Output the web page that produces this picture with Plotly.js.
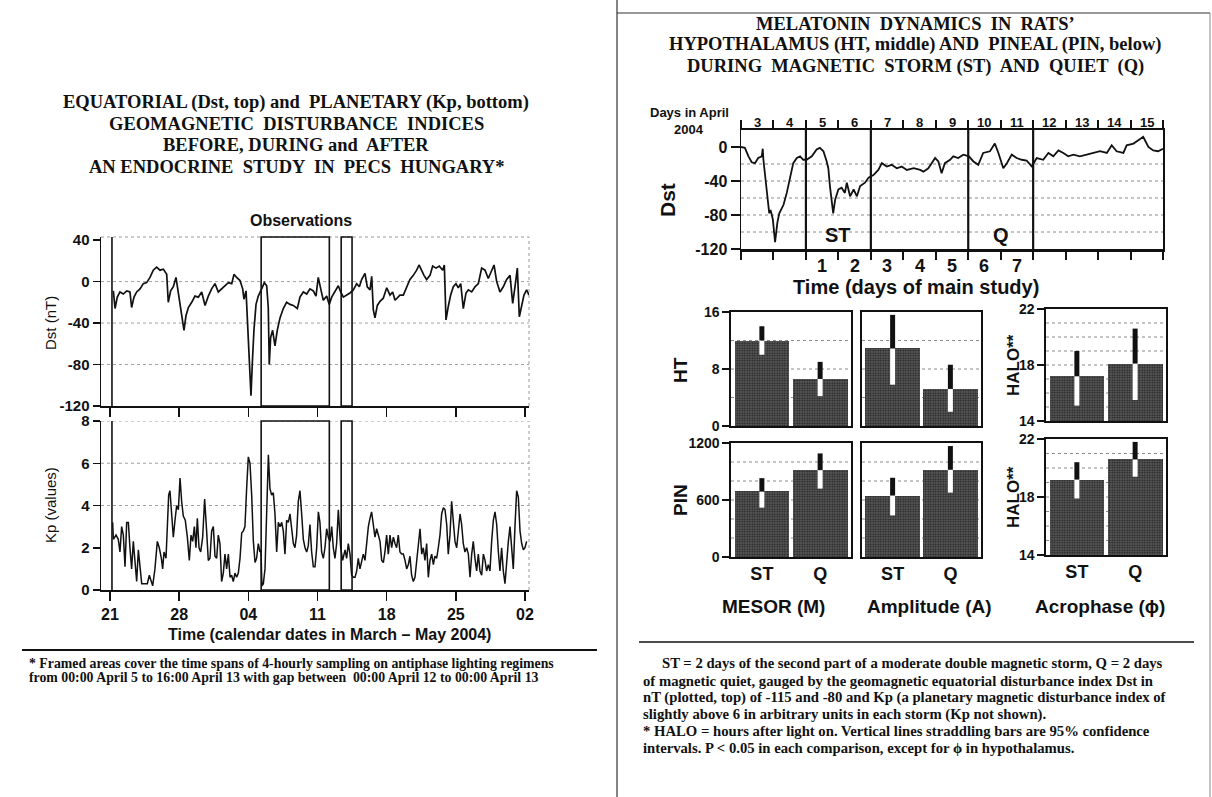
<!DOCTYPE html>
<html><head><meta charset="utf-8">
<script src="https://cdn.plot.ly/plotly-3.0.1.min.js"></script>
<style>html,body{margin:0;padding:0;background:#fff;}#chart{width:1212px;height:797px;}</style>
</head><body><div id="chart"></div>
<script>
// ---------- LEFT: Dst (nT) and Kp, x = day counted from 1 March 2004 (32 = 1 April)
const dstDay = [21.34,21.51,21.74,22.01,22.35,22.69,23.02,23.19,23.43,23.70,24.04,24.37,24.71,25.05,25.38,25.72,26.06,26.40,26.74,26.90,27.14,27.41,27.68,27.91,28.25,28.49,28.69,28.93,29.27,29.60,29.94,30.28,30.62,30.95,31.29,31.63,31.96,32.30,32.64,32.98,33.32,33.55,33.82,34.16,34.43,34.56,34.77,34.94,35.10,35.27,35.40,35.57,35.78,36.01,36.35,36.62,36.86,37.02,37.12,37.26,37.46,37.70,37.93,38.21,38.54,38.88,39.22,39.55,39.96,40.23,40.57,40.91,41.24,41.58,41.85,42.08,42.33,42.59,42.93,43.19,43.44,43.77,44.11,44.35,44.62,44.96,45.29,45.63,45.97,46.24,46.47,46.81,47.04,47.32,47.49,47.65,47.82,48.06,48.33,48.66,49.01,49.34,49.61,49.85,50.08,50.35,50.69,51.03,51.36,51.70,52.04,52.28,52.55,52.78,53.05,53.39,53.66,54.00,54.33,54.67,54.84,55.01,55.24,55.48,55.75,56.02,56.25,56.50,56.76,57.03,57.27,57.61,57.94,58.28,58.62,58.96,59.29,59.63,59.87,60.14,60.47,60.81,61.15,61.49,61.76,61.99,62.23,62.43,62.67,62.90,63.17,63.41];
const dstVal = [-9,-26,-15,-10,-12,-9,-10,-25,-15,-10,-7,-2,-1,4,11,14,11,12,7,-20,-9,-5,4,-10,-28,-47,-33,-25,-20,-14,-15,-10,-23,-14,-7,-2,-10,-7,-4,-1,-2,7,4,1,-7,-17,-9,-47,-86,-110,-80,-47,-22,-14,-7,-1,-4,-25,-80,-54,-47,-62,-47,-35,-26,-20,-22,-23,-26,-15,-10,-12,-7,-9,-14,4,-7,-18,-14,-22,-15,-10,-4,-10,-15,-13,-11,-8,-2,-5,2,8,-5,-8,5,-27,-35,-23,-19,-16,-6,-13,-10,-18,-16,-13,-13,-6,2,6,11,16,10,6,2,6,15,13,15,11,16,-37,-24,-13,-5,-2,-6,-2,-26,-11,-8,-10,-5,-2,13,11,3,10,16,0,-10,-5,2,6,-21,-5,13,-34,-23,-13,-8,-13];
const kpDay = [21.27,21.34,21.61,21.84,22.01,22.18,22.35,22.52,22.69,22.86,23.02,23.19,23.36,23.53,23.70,23.87,24.04,24.21,24.54,24.78,24.98,25.15,25.32,25.55,25.79,25.99,26.20,26.33,26.47,26.67,26.80,26.94,27.07,27.24,27.41,27.58,27.75,27.92,28.09,28.25,28.42,28.62,28.83,29.03,29.20,29.37,29.54,29.70,29.84,30.01,30.18,30.38,30.58,30.78,30.95,31.12,31.29,31.46,31.63,31.80,31.96,32.13,32.30,32.47,32.64,32.81,32.98,33.15,33.31,33.48,33.65,33.82,33.99,34.16,34.33,34.50,34.66,34.83,35.00,35.17,35.34,35.51,35.68,35.84,36.01,36.18,36.28,36.38,36.52,36.69,36.86,37.03,37.19,37.36,37.53,37.70,37.87,38.04,38.21,38.38,38.54,38.71,38.88,39.05,39.22,39.39,39.56,39.72,39.89,40.06,40.23,40.40,40.57,40.74,40.91,41.07,41.24,41.41,41.58,41.75,41.92,42.09,42.25,42.42,42.59,42.76,42.93,43.10,43.27,43.44,43.60,43.77,43.94,44.11,44.35,44.55,44.79,44.95,45.12,45.29,45.46,45.63,45.80,45.97,46.13,46.30,46.47,46.64,46.81,46.98,47.15,47.32,47.48,47.65,47.82,47.99,48.16,48.33,48.50,48.67,48.83,49.00,49.17,49.34,49.51,49.68,49.85,50.01,50.18,50.35,50.52,50.69,50.86,51.03,51.20,51.36,51.53,51.70,51.87,52.04,52.21,52.38,52.55,52.71,52.88,53.05,53.22,53.39,53.56,53.73,53.89,54.06,54.23,54.40,54.57,54.74,54.91,55.08,55.24,55.41,55.58,55.75,55.92,56.09,56.26,56.43,56.59,56.76,56.93,57.10,57.27,57.44,57.61,57.77,57.94,58.11,58.28,58.45,58.62,58.79,58.96,59.12,59.29,59.46,59.63,59.80,59.97,60.14,60.31,60.47,60.64,60.81,60.98,61.15,61.32,61.49,61.66,61.82,61.99,62.16,62.33,62.50,62.67,62.84,63.00,63.17];
const kpVal = [3.2,2.4,2.6,2.4,1.8,3.0,2.6,1.1,3.2,3.2,2.0,1.0,2.3,1.2,0.4,1.9,1.2,0.3,0.3,0.3,0.7,0.4,0.2,1.0,2.3,2.0,1.5,1.0,1.8,1.5,3.0,4.5,4.7,3.5,2.5,3.3,4.0,3.8,5.3,4.2,3.5,3.3,2.5,1.4,2.6,2.3,3.0,2.0,3.4,2.0,1.8,2.5,4.3,2.8,1.4,1.5,2.8,3.0,1.6,1.5,2.6,2.2,0.4,0.8,1.7,1.0,1.7,0.6,0.7,0.4,0.8,0.6,0.8,1.5,2.7,2.8,3.0,4.8,6.3,6.0,4.5,2.3,1.3,1.5,2.2,1.8,1.9,0.2,0.3,1.0,3.5,6.4,4.8,4.5,4.6,3.6,1.8,3.2,3.0,3.2,2.8,1.7,3.3,3.2,3.6,3.0,2.2,2.0,2.6,4.2,4.7,3.6,2.4,2.0,1.8,2.1,3.1,1.8,1.1,1.1,2.0,3.7,3.2,1.8,1.5,2.0,2.9,2.5,2.3,3.0,2.0,1.5,2.2,3.8,2.0,1.4,1.9,1.5,2.2,1.7,0.7,0.6,0.6,0.9,1.5,1.0,1.4,1.7,1.4,2.3,3.0,3.4,3.7,3.1,2.5,2.9,2.6,2.3,1.4,1.3,1.8,2.6,1.7,2.6,2.0,2.5,2.2,2.0,2.6,1.8,1.7,1.7,1.4,1.0,1.2,1.6,0.7,0.4,0.6,1.4,2.3,2.9,1.7,2.0,1.4,2.2,0.6,1.4,1.7,1.2,1.6,1.5,2.0,2.6,3.6,3.9,3.8,3.1,1.7,2.6,4.2,3.1,2.3,2.0,2.9,3.6,3.1,2.2,1.8,2.0,1.7,0.6,1.7,2.3,1.5,0.9,1.7,0.9,0.7,1.7,1.4,0.9,1.2,0.9,2.3,3.3,3.7,3.1,1.8,0.9,2.0,0.9,0.3,1.4,2.3,3.0,2.0,1.0,3.0,4.7,4.4,2.8,2.2,1.9,2.0,2.3];
const dateTicks = [21,28,35,42,49,56,63];
const dateLabels = ['21','28','04','11','18','25','02'];
const dstTicks = [40,0,-40,-80,-120];
const dstGrid = [0,-40,-80];
const kpTicks = [0,2,4,6,8];
const kpGrid = [4,6,8];
const recordStart = 21.2;
const obsStart = [36.3,44.4];
const obsEnd = [43.2,45.5];

// ---------- RIGHT TOP: Dst in April 2004, x = day of April
const aprDay = [3.00,3.12,3.23,3.33,3.43,3.53,3.64,3.67,3.69,3.74,3.81,3.87,3.91,3.98,4.05,4.12,4.18,4.31,4.41,4.51,4.61,4.72,4.82,4.92,5.02,5.18,5.33,5.43,5.54,5.64,5.69,5.74,5.79,5.84,5.90,6.00,6.10,6.20,6.26,6.36,6.47,6.57,6.67,6.82,6.93,7.08,7.23,7.34,7.49,7.64,7.80,7.95,8.11,8.32,8.52,8.62,8.77,8.98,9.08,9.18,9.28,9.44,9.54,9.69,9.85,10.02,10.16,10.31,10.46,10.67,10.82,10.93,11.08,11.19,11.34,11.49,11.65,11.80,11.96,12.11,12.31,12.47,12.62,12.78,12.93,13.08,13.24,13.44,13.65,13.85,14.06,14.27,14.42,14.57,14.78,14.88,15.09,15.24,15.39,15.55,15.70,15.85,16.00];
const aprDst = [0,-1,-11,-18,-19,-13,-11,-2,-15,-35,-62,-78,-74,-85,-112,-89,-78,-68,-54,-35,-19,-13,-11,-15,-15,-11,-3,-1,-5,-17,-25,-46,-66,-78,-62,-50,-48,-54,-42,-58,-50,-58,-46,-42,-36,-33,-27,-19,-23,-21,-25,-23,-27,-25,-27,-29,-25,-13,-17,-31,-19,-15,-11,-13,-9,-11,-17,-21,-7,-5,4,-7,-25,-19,-9,-13,-15,-16,-23,-13,-15,-7,-11,-4,-7,-11,-9,-11,-9,-7,-5,-7,2,-5,-7,2,4,8,12,0,-4,-5,-2];
const aprTickDays = [3,4,5,6,7,8,9,10,11,12,13,14,15,16];
const aprLabels = ['3','4','5','6','7','8','9','10','11','12','13','14','15'];
const studyLabels = ['1','2','3','4','5','6','7'];
const studyFirstDay = 5;
const aprDstTicks = [0,-40,-80,-120];
const aprDstGrid = [-20,-40,-60,-80,-100];
const stormSpan = [5,7];
const quietSpan = [10,12];

// ---------- RIGHT BARS: ST vs Q
const groups = ['ST','Q'];
const htMesor = [12.0,6.6],  htMesorLo = [10.0,4.2],  htMesorHi = [14.0,9.0];
const htAmp   = [10.9,5.2],  htAmpLo   = [5.8,2.0],   htAmpHi   = [15.6,8.6];
const htAcro  = [17.2,18.1], htAcroLo  = [15.1,15.5], htAcroHi  = [19.0,20.6];
const pinMesor= [690,915],   pinMesorLo= [520,720],   pinMesorHi= [830,1090];
const pinAmp  = [647,918],   pinAmpLo  = [438,678],   pinAmpHi  = [834,1168];
const pinAcro = [19.2,20.6], pinAcroLo = [17.9,19.4], pinAcroHi = [20.4,21.8];
const htTicks = [0,8,16], htGrid = [4,8,12];
const pinTicks = [0,600,1200], pinGrid = [200,400,600,800,1000];
const haloTicks = [14,18,22], haloGrid = [15,16,17,18,19,20,21];

// ---------- helpers
const W = 1212, H = 797;
const fx = p => p / W;
const fy = p => 1 - p / H;
const SERIF = 'Liberation Serif, Times New Roman, serif';
const SANS = 'Liberation Sans, Arial, sans-serif';
const INK = '#111';
const B = s => '<b>' + s + '</b>';
const annotations = [];
const shapes = [];
function ann(text, x, y, o) {
  annotations.push(Object.assign({text: text, x: fx(x), y: fy(y), xref: 'paper', yref: 'paper',
    showarrow: false, xanchor: 'center', yanchor: 'middle'}, o));
}
function hline(x0, x1, y, w, color, dash) {
  shapes.push({type: 'line', xref: 'paper', yref: 'paper', x0: fx(x0), x1: fx(x1), y0: fy(y), y1: fy(y),
    line: {color: color || INK, width: w || 1, dash: dash || 'solid'}});
}
function vline(x, y0, y1, w, color) {
  shapes.push({type: 'line', xref: 'paper', yref: 'paper', x0: fx(x), x1: fx(x), y0: fy(y0), y1: fy(y1),
    line: {color: color || INK, width: w || 1}});
}
function gridLines(vals, xa, ya, color) {
  vals.forEach(v => shapes.push({type: 'line', layer: 'below', xref: xa + ' domain', yref: ya, x0: 0, x1: 1, y0: v, y1: v,
    line: {color: color || '#9a9a9a', width: 1, dash: 'dot'}}));
}

const traces = [];
traces.push({x: dstDay, y: dstVal, xaxis: 'x', yaxis: 'y', mode: 'lines', line: {color: INK, width: 1.7}, hoverinfo: 'skip'});
traces.push({x: kpDay, y: kpVal, xaxis: 'x2', yaxis: 'y2', mode: 'lines', line: {color: INK, width: 1.5}, hoverinfo: 'skip'});
traces.push({x: aprDay, y: aprDst, xaxis: 'x3', yaxis: 'y3', mode: 'lines', line: {color: INK, width: 1.8}, hoverinfo: 'skip'});

const panels = [
  {n: 4, v: htMesor, lo: htMesorLo, hi: htMesorHi},
  {n: 5, v: htAmp, lo: htAmpLo, hi: htAmpHi},
  {n: 6, v: htAcro, lo: htAcroLo, hi: htAcroHi},
  {n: 7, v: pinMesor, lo: pinMesorLo, hi: pinMesorHi},
  {n: 8, v: pinAmp, lo: pinAmpLo, hi: pinAmpHi},
  {n: 9, v: pinAcro, lo: pinAcroLo, hi: pinAcroHi}
];
const catX = groups.map((g, i) => i);
panels.forEach(p => {
  const xa = 'x' + p.n, ya = 'y' + p.n;
  traces.push({type: 'bar', x: catX, y: p.v, xaxis: xa, yaxis: ya, width: 0.94,
    marker: {color: '#474747', line: {width: 0},
      pattern: {shape: '.', fgcolor: '#1c1c1c', bgcolor: '#5a5a5a', size: 2.5, solidity: 0.4}}, hoverinfo: 'skip'});
  const bx = [], by = [], wx = [], wy = [];
  catX.forEach((c, i) => {
    bx.push(c, c, null); by.push(p.v[i], p.hi[i], null);
    wx.push(c, c, null); wy.push(p.lo[i], p.v[i], null);
  });
  traces.push({x: wx, y: wy, xaxis: xa, yaxis: ya, mode: 'lines', line: {color: '#ffffff', width: 5}, hoverinfo: 'skip'});
  traces.push({x: bx, y: by, xaxis: xa, yaxis: ya, mode: 'lines', line: {color: INK, width: 5}, hoverinfo: 'skip'});
});

const tf = (s) => ({family: SANS, size: s, color: INK});
const layout = {
  width: W, height: H, margin: {l: 0, r: 0, t: 0, b: 0}, paper_bgcolor: '#fff', plot_bgcolor: 'rgba(0,0,0,0)',
  showlegend: false, bargap: 0,
  xaxis: {domain: [fx(101), fx(529)], range: [20.09, 63.41], anchor: 'y', tickvals: dateTicks, showticklabels: false,
    ticks: 'outside', ticklen: 9, tickwidth: 1.5, tickcolor: INK, showline: true, linewidth: 2, linecolor: INK, showgrid: false, zeroline: false},
  yaxis: {domain: [fy(406), fy(237)], range: [-120, 43], anchor: 'x', tickvals: dstTicks, ticktext: dstTicks.map(v => B(String(v))),
    ticks: 'outside', ticklen: 7, tickwidth: 1.5, tickcolor: INK, showline: true, linewidth: 1.5, linecolor: INK, showgrid: false, zeroline: false, tickfont: tf(15)},
  xaxis2: {domain: [fx(101), fx(529)], range: [20.09, 63.41], anchor: 'y2', tickvals: dateTicks, ticktext: dateLabels.map(B),
    ticks: 'outside', ticklen: 9, tickwidth: 1.5, tickcolor: INK, showline: true, linewidth: 2, linecolor: INK, showgrid: false, zeroline: false, tickfont: tf(16)},
  yaxis2: {domain: [fy(590), fy(421)], range: [0, 8], anchor: 'x2', tickvals: kpTicks, ticktext: kpTicks.map(v => B(String(v))),
    ticks: 'outside', ticklen: 7, tickwidth: 1.5, tickcolor: INK, showline: true, linewidth: 1.5, linecolor: INK, showgrid: false, zeroline: false, tickfont: tf(15)},
  xaxis3: {domain: [fx(741), fx(1163)], range: [3, 16], anchor: 'y3', tickvals: aprTickDays, showticklabels: false,
    ticks: 'outside', ticklen: 8, tickwidth: 2, tickcolor: INK, showline: true, linewidth: 2.5, linecolor: INK, mirror: 'ticks', showgrid: false, zeroline: false},
  yaxis3: {domain: [fy(249), fy(130)], range: [-120, 20], anchor: 'x3', tickvals: aprDstTicks, ticktext: aprDstTicks.map(v => B(String(v))),
    ticks: 'outside', ticklen: 9, tickwidth: 1.5, tickcolor: INK, showline: true, linewidth: 1.5, linecolor: INK, mirror: true, showgrid: false, zeroline: false, tickfont: tf(16)}
};
const colX = [[731, 851], [862, 981], [1046, 1166]];
const rowY = {4: [312, 426], 5: [312, 426], 6: [309, 421], 7: [443, 557], 8: [443, 557], 9: [439, 555]};
const yRanges = {4: [0, 16], 5: [0, 16], 6: [14, 22], 7: [0, 1200], 8: [0, 1200], 9: [14, 22]};
const yTicks = {4: htTicks, 6: haloTicks, 7: pinTicks, 9: haloTicks};
const yGrids = {4: htGrid, 5: htGrid, 6: haloGrid, 7: pinGrid, 8: pinGrid, 9: haloGrid};
[4, 5, 6, 7, 8, 9].forEach(n => {
  const col = colX[(n - 4) % 3];
  const bottomRow = n >= 7;
  layout['xaxis' + n] = {domain: [fx(col[0]), fx(col[1])], range: [-0.53, 1.53], anchor: 'y' + n,
    tickvals: catX, ticktext: groups.map(B), showticklabels: bottomRow, ticks: '', tickfont: tf(18),
    showline: true, linewidth: 1.6, linecolor: INK, mirror: true, showgrid: false, zeroline: false, fixedrange: true};
  const yt = yTicks[n];
  layout['yaxis' + n] = {domain: [fy(rowY[n][1]), fy(rowY[n][0])], range: yRanges[n], anchor: 'x' + n,
    tickvals: yt || [], ticktext: (yt || []).map(v => B(String(v))), showticklabels: !!yt, ticks: yt ? 'outside' : '',
    ticklen: 7, tickwidth: 1.5, tickcolor: INK, tickfont: tf(14),
    showline: true, linewidth: 1.6, linecolor: INK, mirror: true, showgrid: false, zeroline: false, fixedrange: true};
  gridLines(yGrids[n], 'x' + n, 'y' + n, '#8a8a8a');
});

// ---------- left panel decorations
gridLines(dstGrid, 'x', 'y', '#a0a0a0');
gridLines(kpGrid, 'x2', 'y2', '#a0a0a0');
shapes.push({type: 'line', xref: 'x domain', yref: 'y domain', x0: 0, x1: 1, y0: 1, y1: 1, line: {color: '#9a9a9a', width: 1, dash: 'dot'}});
shapes.push({type: 'line', xref: 'x domain', yref: 'y domain', x0: 1, x1: 1, y0: 0, y1: 1, line: {color: '#9a9a9a', width: 1, dash: 'dot'}});
shapes.push({type: 'line', xref: 'x2 domain', yref: 'y2 domain', x0: 1, x1: 1, y0: 0, y1: 1, line: {color: '#9a9a9a', width: 1, dash: 'dot'}});
[['x', 'y'], ['x2', 'y2']].forEach(([xa, ya]) => {
  shapes.push({type: 'line', xref: xa, yref: ya + ' domain', x0: recordStart, x1: recordStart, y0: 0, y1: 1, line: {color: INK, width: 1.6}});
  obsStart.forEach((s, i) => shapes.push({type: 'rect', xref: xa, yref: ya + ' domain', x0: s, x1: obsEnd[i], y0: 0, y1: 1,
    line: {color: INK, width: 1.6}, fillcolor: 'rgba(0,0,0,0)'}));
});
gridLines(aprDstGrid, 'x3', 'y3', '#8a8a8a');
stormSpan.concat(quietSpan).forEach(d => shapes.push({type: 'line', xref: 'x3', yref: 'y3 domain', x0: d, x1: d, y0: 0, y1: 1, line: {color: INK, width: 2.2}}));

// ---------- texts: left
const leftTitle = ['EQUATORIAL (Dst, top) and  PLANETARY (Kp, bottom)', 'GEOMAGNETIC  DISTURBANCE  INDICES', 'BEFORE, DURING and  AFTER', 'AN ENDOCRINE  STUDY  IN  PECS  HUNGARY*'];
[102, 123.5, 145, 166.5].forEach((y, i) => ann(B(leftTitle[i]), 296, y, {font: {family: SERIF, size: 18.5, color: INK}}));
ann(B('Observations'), 301, 220, {font: tf(16)});
ann('Dst (nT)', 50, 323, {textangle: -90, font: tf(15)});
ann('Kp (values)', 50, 505, {textangle: -90, font: tf(15)});
ann(B('Time (calendar dates in March – May 2004)'), 329, 634, {font: tf(16)});
hline(22, 597, 650, 2);
const leftNote = ['* Framed areas cover the time spans of 4-hourly sampling on antiphase lighting regimens',
  'from 00:00 April 5 to 16:00 April 13 with gap between  00:00 April 12 to 00:00 April 13'];
[663, 677].forEach((y, i) => ann(B(leftNote[i]), 27, y, {xanchor: 'left', font: {family: SERIF, size: 13.8, color: INK}}));

// ---------- texts: right
const rightTitle = ['MELATONIN  DYNAMICS  IN  RATS’', 'HYPOTHALAMUS (HT, middle) AND  PINEAL (PIN, below)', 'DURING  MAGNETIC  STORM (ST)  AND  QUIET  (Q)'];
[24, 45, 66].forEach((y, i) => ann(B(rightTitle[i]), 915, y, {font: {family: SERIF, size: 18.5, color: INK}}));
ann(B('Days in April'), 689, 113, {font: tf(13)});
ann(B('2004'), 689, 129, {font: tf(13)});
aprLabels.forEach((t, i) => annotations.push({text: B(t), x: aprTickDays[i] + 0.5, xref: 'x3', y: fy(122), yref: 'paper',
  showarrow: false, xanchor: 'center', yanchor: 'middle', font: tf(13)}));
studyLabels.forEach((t, i) => annotations.push({text: B(t), x: studyFirstDay + i + 0.5, xref: 'x3', y: fy(266), yref: 'paper',
  showarrow: false, xanchor: 'center', yanchor: 'middle', font: tf(18)}));
annotations.push({text: B('ST'), x: (stormSpan[0] + stormSpan[1]) / 2, xref: 'x3', y: -104, yref: 'y3', showarrow: false, font: tf(20)});
annotations.push({text: B('Q'), x: (quietSpan[0] + quietSpan[1]) / 2, xref: 'x3', y: -104, yref: 'y3', showarrow: false, font: tf(20)});
ann(B('Time (days of main study)'), 916, 287, {font: tf(20)});
ann(B('Dst'), 667, 200, {textangle: -90, font: tf(21)});
ann(B('HT'), 680, 370, {textangle: -90, font: tf(19)});
ann(B('PIN'), 680, 500, {textangle: -90, font: tf(19)});
ann(B('HALO**'), 1013, 365, {textangle: -90, font: tf(17)});
ann(B('HALO**'), 1013, 497, {textangle: -90, font: tf(17)});
const paramNames = ['MESOR (M)', 'Amplitude (A)', 'Acrophase (ϕ)'];
[773, 929, 1100].forEach((x, i) => ann(B(paramNames[i]), x, 606, {font: tf(19)}));
hline(639, 1194, 642, 1.6);
const rightNote = ['ST = 2 days of the second part of a moderate double magnetic storm, Q = 2 days',
  'of magnetic quiet, gauged by the geomagnetic equatorial disturbance index Dst in',
  'nT (plotted, top) of -115 and -80 and Kp (a planetary magnetic disturbance index of',
  'slightly above 6 in arbitrary units in each storm (Kp not shown).',
  '* HALO = hours after light on. Vertical lines straddling bars are 95% confidence',
  'intervals. P &lt; 0.05 in each comparison, except for ϕ in hypothalamus.'];
[663, 680.5, 697.5, 714, 731, 748].forEach((y, i) => ann(B(rightNote[i]), i === 0 ? 660 : 641, y,
  {xanchor: 'left', font: {family: SERIF, size: 14.7, color: INK}}));

// ---------- page edges of the scanned sheet
vline(617, 0, 797, 1.2, '#333');
hline(617, 1210, 13, 1.2, '#333');
vline(1210, 13, 797, 1, '#888');

layout.annotations = annotations;
layout.shapes = shapes;
Plotly.newPlot('chart', traces, layout, {displayModeBar: false, staticPlot: true});
</script></body></html>
